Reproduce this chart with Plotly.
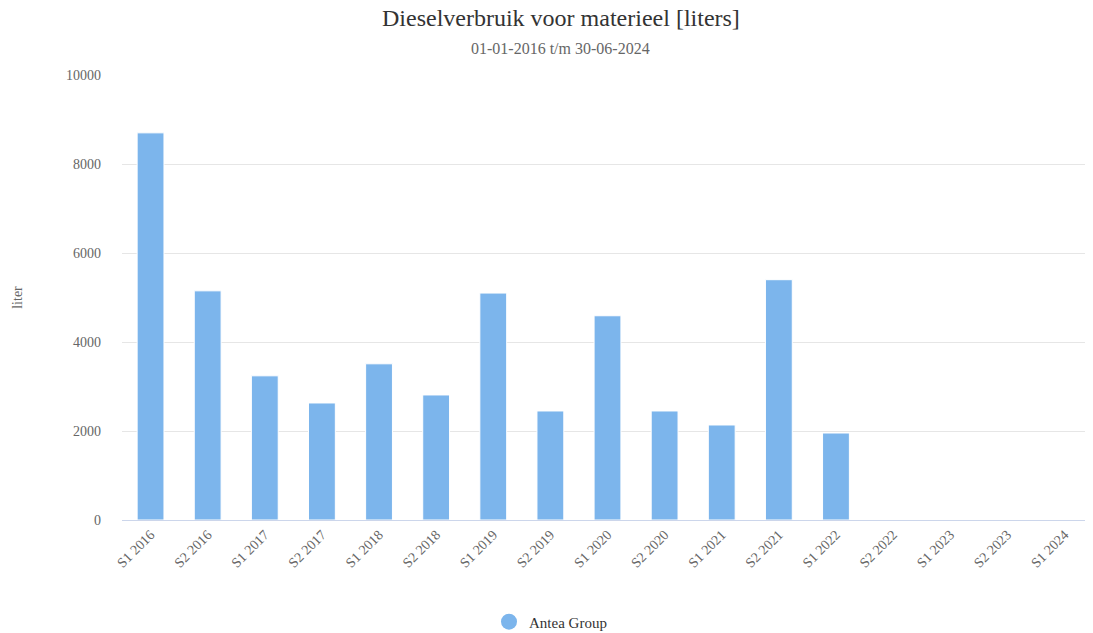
import plotly.graph_objects as go

periods = ["S1 2016", "S2 2016", "S1 2017", "S2 2017", "S1 2018", "S2 2018",
           "S1 2019", "S2 2019", "S1 2020", "S2 2020", "S1 2021", "S2 2021",
           "S1 2022", "S2 2022", "S1 2023", "S2 2023", "S1 2024"]
liters = [8700, 5150, 3240, 2630, 3510, 2810, 5100, 2450, 4590, 2450, 2135,
          5400, 1955, 0, 0, 0, 0]
series_name = "Antea Group"
title = "Dieselverbruik voor materieel [liters]"
subtitle = "01-01-2016 t/m 30-06-2024"
bar_color = "#7cb5ec"
font = "Liberation Serif, Times New Roman, serif"

fig = go.Figure()
fig.add_trace(go.Bar(
    x=periods, y=liters, name=series_name, showlegend=False,
    marker=dict(color=bar_color, line=dict(color="white", width=1)),
))
# legend entry with a round symbol, like the original
fig.add_trace(go.Scatter(
    x=[None], y=[None], mode="markers", name=series_name,
    marker=dict(color=bar_color, size=16, symbol="circle"),
))

# page body has an 8px margin, so the figure is a bit smaller than the window
fig.update_layout(
    width=1085, height=625,
    margin=dict(l=114, r=0, t=67, b=113, autoexpand=False),
    paper_bgcolor="white", plot_bgcolor="white",
    font=dict(family=font, color="#666666", size=14),
    bargap=0.53,
    showlegend=True,
    legend=dict(orientation="h", xref="container", x=0.5, xanchor="center",
                y=-0.229, yanchor="middle",
                font=dict(size=15, color="#333333", family=font)),
    annotations=[
        dict(text=title, xref="paper", yref="paper", x=0.452, y=1, yshift=57,
             xanchor="center", yanchor="middle", showarrow=False,
             font=dict(size=24, color="#333333", family=font)),
        dict(text=subtitle, xref="paper", yref="paper", x=0.452, y=1, yshift=27,
             xanchor="center", yanchor="middle", showarrow=False,
             font=dict(size=16, color="#666666", family=font)),
    ],
)
fig.update_xaxes(
    tickangle=-45, showgrid=False, showline=True, linecolor="#ccd6eb", linewidth=1,
    ticks="", tickfont=dict(size=14, color="#666666"),
)
fig.update_yaxes(
    range=[0, 10000], dtick=2000, tickformat="d", showgrid=True, gridcolor="#e6e6e6",
    zeroline=False, ticklabelstandoff=20,
    title=dict(text="liter", font=dict(size=14, color="#666666"), standoff=40),
    tickfont=dict(size=14, color="#666666"),
)

fig.write_html("out.html")
